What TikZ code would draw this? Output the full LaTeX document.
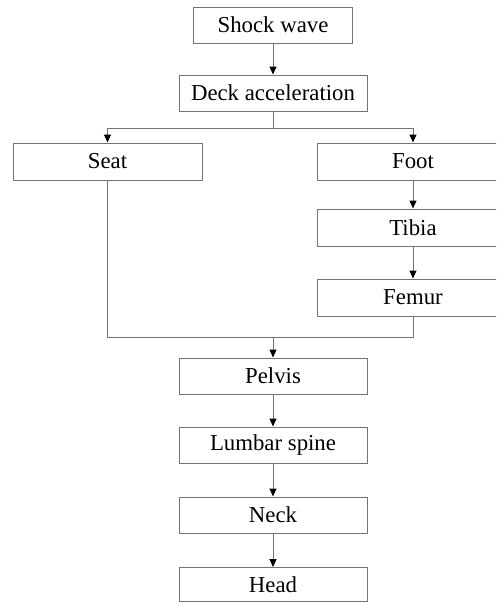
\documentclass[tikz,border=0pt]{standalone}
\usepackage{fontspec}
\setmainfont{Liberation Serif}
\usetikzlibrary{arrows.meta}

\begin{document}
\begin{tikzpicture}[x=1pt, y=-1pt,
    box/.style={draw=black!55, line width=1pt, fill=white, inner sep=0pt,
      minimum height=36pt, font=\fontsize{22.8}{26}\selectfont},
    arr/.style={draw=black!55, line width=1pt, -{Triangle[length=8pt,width=7pt,color=black]}},
    link/.style={draw=black!55, line width=1pt}]
  \clip (0,0) rectangle (496,603);

  % Top of the chain
  \node[box, minimum width=159pt] (shock) at (273,25) {Shock wave};
  \node[box, minimum width=188pt] (deck) at (273,93) {Deck acceleration};

  % Two load paths
  \node[box, minimum width=189pt, minimum height=37pt] (seat) at (107.5,161.5) {Seat};
  \node[box, minimum width=192pt, minimum height=37pt] (foot) at (413,161.5) {Foot};
  \node[box, minimum width=192pt, minimum height=37pt] (tibia) at (413,227.5) {Tibia};
  \node[box, minimum width=192pt, minimum height=37pt] (femur) at (413,297.5) {Femur};

  % Body
  \node[box, minimum width=188pt] (pelvis) at (273,376) {Pelvis};
  \node[box, minimum width=188pt] (lumbar) at (273,445) {Lumbar spine};
  \node[box, minimum width=188pt] (neck) at (273,515) {Neck};
  \node[box, minimum width=188pt, minimum height=34pt] (head) at (273,584.5) {Head};

  \coordinate (split) at (273,128);
  \coordinate (merge) at (273,337);

  % Connectors
  \draw[arr] (shock.south) -- (deck.north);
  \draw[link] (deck.south) -- (split);
  \draw[arr] (split) -| (seat.north);
  \draw[arr] (split) -| (foot.north);
  \draw[arr] (foot.south) -- (tibia.north);
  \draw[arr] (tibia.south) -- (femur.north);
  \draw[link] (seat.south) |- (merge);
  \draw[link] (femur.south) |- (merge);
  \draw[arr] (merge) -- (pelvis.north);
  \draw[arr] (pelvis.south) -- (lumbar.north);
  \draw[arr] (lumbar.south) -- (neck.north);
  \draw[arr] (neck.south) -- (head.north);
\end{tikzpicture}
\end{document}
